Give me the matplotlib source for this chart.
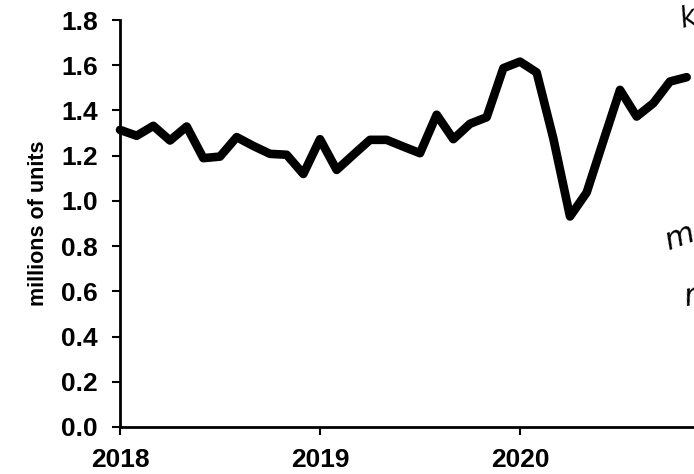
import matplotlib
matplotlib.use("Agg")
import matplotlib.pyplot as plt

# Monthly values, Jan 2018 .. Nov 2020 (millions of units)
months_from_2018 = list(range(35))
values = [1.314, 1.288, 1.332, 1.267, 1.329, 1.189, 1.196, 1.282, 1.243, 1.208,
          1.204, 1.119, 1.273, 1.137, 1.204, 1.270, 1.270, 1.240, 1.211, 1.381,
          1.273, 1.341, 1.370, 1.587, 1.616, 1.568, 1.276, 0.931, 1.037, 1.265,
          1.491, 1.373, 1.432, 1.528, 1.547]
year_ticks = [2018, 2019, 2020]
y_ticks = [0.0, 0.2, 0.4, 0.6, 0.8, 1.0, 1.2, 1.4, 1.6, 1.8]
y_label = "millions of units"

x = [2018 + m / 12 for m in months_from_2018]

fig = plt.figure(figsize=(6.94, 4.74), dpi=100)
ax = fig.add_axes([120/694, 1 - 427/474, 1 - 120/694, (427 - 20)/474])
ax.plot(x, values, color="black", lw=6.2, solid_joinstyle="round", solid_capstyle="round", clip_on=False)
ax.set_xlim(2018, 2018 + (694 - 120) / 200)
ax.set_ylim(0, 1.8)
ax.set_yticks(y_ticks)
ax.set_yticklabels([f"{v:.1f}" for v in y_ticks], family=["Liberation Sans"], weight="bold", fontsize=19)
ax.set_xticks(year_ticks)
ax.set_xticklabels([str(v) for v in year_ticks], family=["Liberation Sans"], weight="bold", fontsize=19)
ax.tick_params(axis="both", direction="out", length=6, width=1.5, color="black")
ax.tick_params(axis="y", pad=10)
ax.tick_params(axis="x", pad=9)
for s in ["top", "right"]:
    ax.spines[s].set_visible(False)
for s in ["left", "bottom"]:
    ax.spines[s].set_linewidth(2)
ax.set_ylabel(y_label, family=["Liberation Sans"], weight="bold", fontsize=15.5, labelpad=9)

# handwritten margin marks (cut off at the right edge in the reference)
fig.text(0.975, 0.995, "k", fontsize=20, style="italic", family=["DejaVu Sans"], va="top", ha="left", rotation=15)
fig.text(0.952, 0.50, "m", fontsize=22, style="italic", family=["DejaVu Sans"], va="center", ha="left", rotation=20)
fig.text(0.982, 0.375, "r", fontsize=22, style="italic", family=["DejaVu Sans"], va="center", ha="left", rotation=10)

fig.savefig("out.png", dpi=100)
